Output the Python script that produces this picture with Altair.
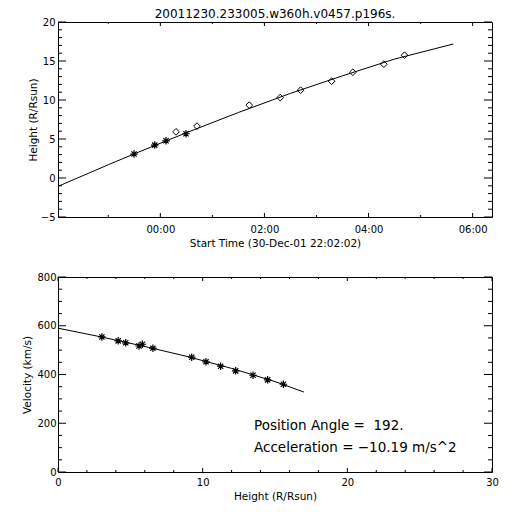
import altair as alt
import pandas as pd

FONT = "DejaVu Sans"
TITLE = "20011230.233005.w360h.v0457.p196s."

# ---- top panel: height vs time (hours from 00:00 31-Dec-01) ----
c2_time = [-0.505, -0.107, 0.109, 0.493]
c2_height = [3.07, 4.22, 4.77, 5.67]
c3_time = [0.301, 0.704, 1.708, 2.303, 2.695, 3.290, 3.699, 4.294, 4.691]
c3_height = [5.92, 6.65, 9.34, 10.31, 11.26, 12.41, 13.56, 14.59, 15.74]
fit_time = [-1.958, -1.0, -0.5, 0.5, 1.5, 2.5, 3.5, 4.5, 5.63]
fit_height = [-1.05, 1.7, 3.1, 5.8, 8.4, 10.85, 13.1, 15.25, 17.18]
time_domain = [-1.966, 6.372]
height_domain = [-5, 20]
time_major = [0, 2, 4, 6]
time_minor = [-1, 1, 3, 5]
height_major = [-5, 0, 5, 10, 15, 20]
height_minor = [v for v in range(-5, 21) if v % 5]

# ---- bottom panel: velocity vs height ----
vel_height = [3.03, 4.16, 4.68, 5.60, 5.83, 6.56, 9.24, 10.23, 11.24, 12.28, 13.48, 14.49, 15.58]
vel_value = [554, 538, 530, 517, 524, 508, 471, 452, 434, 415, 397, 378, 360]
vfit_height = [0, 3, 6, 9, 12, 15, 17]
vfit_value = [590, 554, 515, 473, 425, 371, 328]
h_domain = [0, 30]
v_domain = [0, 800]
h_major = [0, 10, 20, 30]
h_minor = [v for v in range(0, 31, 2) if v % 10]
v_major = [0, 200, 400, 600, 800]
v_minor = [v for v in range(0, 801, 50) if v % 200]

notes = ["Position Angle = \u00a0192.", "Acceleration = \u221210.19 m/s^2"]
note_x = [13.55, 13.55]
note_y = [171, 83]

W, H = 434, 195
ASTER = "M-1,0L1,0M0,-1L0,1M-0.7,-0.7L0.7,0.7M-0.7,0.7L0.7,-0.7"


def axis(orient, values, title, label_pad, title_pad, label_expr=None):
    kw = dict(
        orient=orient, values=values, domain=False, grid=False, ticks=False,
        labelOverlap=False, labelFlush=False, labelBound=False,
        labelFont=FONT, labelFontSize=10, labelColor="black", labelPadding=label_pad,
        titleFont=FONT, titleFontSize=10.5, titleFontWeight="normal", titleColor="black",
        titlePadding=title_pad, title=title,
    )
    if label_expr is not None:
        kw["labelExpr"] = label_expr
    return alt.Axis(**kw)


def tick_layers(xs, ys, xa, ya, xdom, ydom, x_major, x_minor, y_major, y_minor, xpx, ypx):
    """Inward ticks on all four sides, drawn as rules in data units of the panel."""
    out = []
    xunit = (ydom[1] - ydom[0]) / H  # data units per pixel along y
    yunit = (xdom[1] - xdom[0]) / W  # data units per pixel along x

    def rule(vals):
        return alt.Chart(pd.DataFrame({"v": vals})).mark_rule(color="black", strokeWidth=1)

    for vals, ln in ((x_major, xpx), (x_minor, xpx / 2)):
        xe = alt.X("v:Q", scale=xs, axis=xa)
        d = ln * xunit
        out.append(rule(vals).encode(
            x=xe, y=alt.YDatum(ydom[0], scale=ys, axis=ya), y2=alt.Y2Datum(ydom[0] + d)))
        out.append(rule(vals).encode(
            x=xe, y=alt.YDatum(ydom[1], scale=ys, axis=ya), y2=alt.Y2Datum(ydom[1] - d)))
    for vals, ln in ((y_major, ypx), (y_minor, ypx / 2)):
        ye = alt.Y("v:Q", scale=ys, axis=ya)
        d = ln * yunit
        out.append(rule(vals).encode(
            y=ye, x=alt.XDatum(xdom[0], scale=xs, axis=xa), x2=alt.X2Datum(xdom[0] + d)))
        out.append(rule(vals).encode(
            y=ye, x=alt.XDatum(xdom[1], scale=xs, axis=xa), x2=alt.X2Datum(xdom[1] - d)))
    return out


# ---------------- top panel ----------------
tx_scale = alt.Scale(domain=time_domain, nice=False, zero=False)
ty_scale = alt.Scale(domain=height_domain, nice=False, zero=False)
tx_axis = axis("bottom", time_major, "Start Time (30-Dec-01 22:02:02)", 7, 4,
               label_expr="'0' + datum.value + ':00'")
ty_axis = axis("left", height_major, "Height (R/Rsun)", 3, 2)

fit_df = pd.DataFrame({"t": fit_time, "h": fit_height})
c2_df = pd.DataFrame({"t": c2_time, "h": c2_height})
c3_df = pd.DataFrame({"t": c3_time, "h": c3_height})

tx = alt.X("t:Q", scale=tx_scale, axis=tx_axis)
ty = alt.Y("h:Q", scale=ty_scale, axis=ty_axis)

top_line = alt.Chart(fit_df).mark_line(color="black", strokeWidth=1).encode(x=tx, y=ty)
top_c2 = alt.Chart(c2_df).mark_point(shape=ASTER, filled=False, color="black",
                                      size=56, strokeWidth=1.2, opacity=1).encode(x=tx, y=ty)
top_c3 = alt.Chart(c3_df).mark_point(shape="diamond", filled=False, color="black",
                                      size=45, strokeWidth=1, opacity=1).encode(x=tx, y=ty)
top = alt.layer(
    top_line, top_c2, top_c3,
    *tick_layers(tx_scale, ty_scale, tx_axis, ty_axis, time_domain, height_domain,
                 time_major, time_minor, height_major, height_minor, 4, 8),
).properties(
    width=W, height=H,
    title=alt.TitleParams(TITLE, font=FONT, fontSize=12, fontWeight="normal",
                          color="black", offset=-3.5),
)

# ---------------- bottom panel ----------------
bx_scale = alt.Scale(domain=h_domain, nice=False, zero=False)
by_scale = alt.Scale(domain=v_domain, nice=False, zero=False)
bx_axis = axis("bottom", h_major, "Height (R/Rsun)", 5, 4)
by_axis = axis("left", v_major, "Velocity (km/s)", 2, 4)

vfit_df = pd.DataFrame({"h": vfit_height, "v": vfit_value})
vel_df = pd.DataFrame({"h": vel_height, "v": vel_value})
note_df = pd.DataFrame({"x": note_x, "y": note_y, "txt": notes})

bot_line = alt.Chart(vfit_df).mark_line(color="black", strokeWidth=1).encode(
    x=alt.X("h:Q", scale=bx_scale, axis=bx_axis),
    y=alt.Y("v:Q", scale=by_scale, axis=by_axis),
)
bot_pts = alt.Chart(vel_df).mark_point(shape=ASTER, filled=False, color="black",
                                        size=56, strokeWidth=1.2, opacity=1).encode(
    x=alt.X("h:Q", scale=bx_scale, axis=bx_axis),
    y=alt.Y("v:Q", scale=by_scale, axis=by_axis),
)
bot_text = alt.Chart(note_df).mark_text(align="left", baseline="alphabetic", font=FONT,
                                         fontSize=13.5, color="black").encode(
    x=alt.X("x:Q", scale=bx_scale, axis=bx_axis),
    y=alt.Y("y:Q", scale=by_scale, axis=by_axis),
    text="txt:N",
)
bottom = alt.layer(
    bot_line, bot_pts, bot_text,
    *tick_layers(bx_scale, by_scale, bx_axis, by_axis, h_domain, v_domain,
                 h_major, h_minor, v_major, v_minor, 4, 8),
).properties(width=W, height=H)

chart = alt.vconcat(top, bottom, spacing=60, bounds="flush").properties(
    padding={"left": 14, "top": -1, "right": 0, "bottom": 0},
    background="white",
).configure_view(stroke="black", strokeWidth=1)

chart.save("out.html", embed_options={"renderer": "svg", "actions": False})
